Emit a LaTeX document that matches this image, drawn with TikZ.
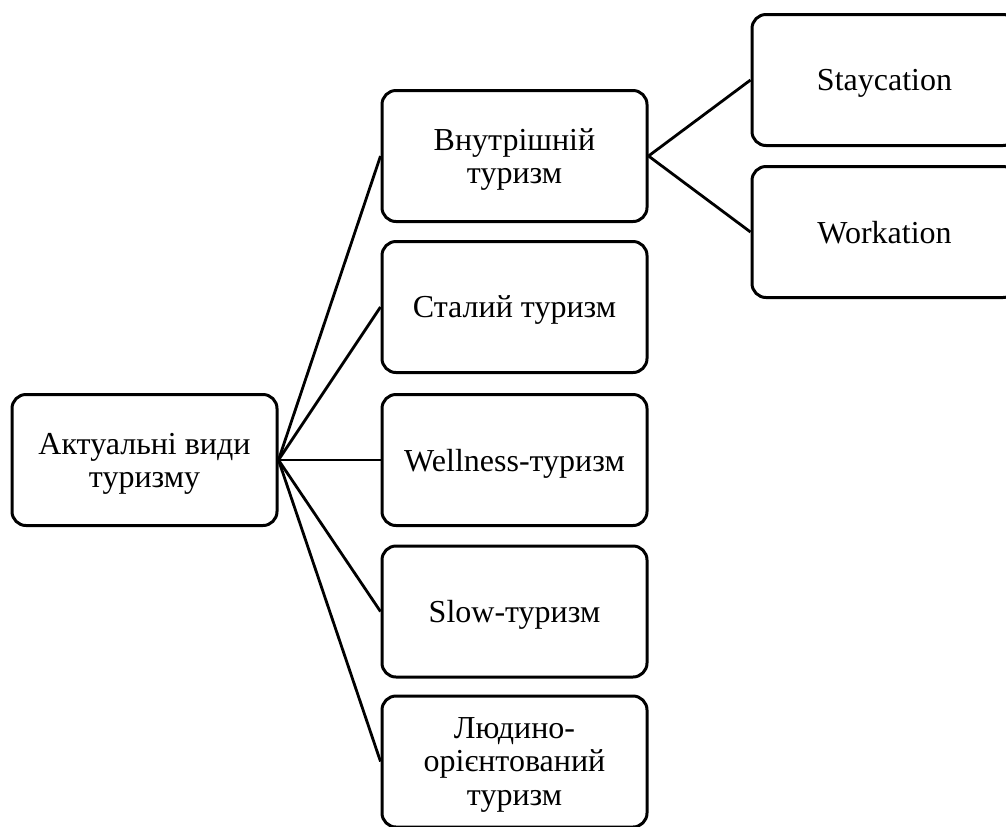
\documentclass[tikz,border=0pt]{standalone}
\usepackage{fontspec}
\setmainfont{Liberation Serif}
\begin{document}
\begin{tikzpicture}[x=0.5pt,y=-0.5pt,
  box/.style={draw=black,line width=1.5pt,rounded corners=7pt,minimum width=132.5pt,minimum height=65.5pt,
    align=center,inner sep=0pt,text depth=0pt,font=\fontsize{16}{16.6}\selectfont},
  link/.style={draw=black,line width=1.4pt}]
\useasboundingbox (0,0) rectangle (1006,826);
\node[box] (root) at (144.5,460) {Актуальні види\\туризму};
\node[box] (m1) at (514.5,156) {Внутрішній\\туризм};
\node[box] (m2) at (514.5,307) {Сталий туризм};
\node[box] (m3) at (514.5,460) {Wellness-туризм};
\node[box] (m4) at (514.5,611.5) {Slow-туризм};
\node[box] (m5) at (514.5,761.5) {Людино-\\орієнтований\\туризм};
\node[box] (r1) at (884.5,80) {Staycation};
\node[box] (r2) at (884.5,232) {Workation};
\foreach \m in {m1,m2,m3,m4,m5}{\draw[link] (root.east) -- (\m.west);}
\draw[link] (m1.east) -- (r1.west);
\draw[link] (m1.east) -- (r2.west);
\end{tikzpicture}
\end{document}
